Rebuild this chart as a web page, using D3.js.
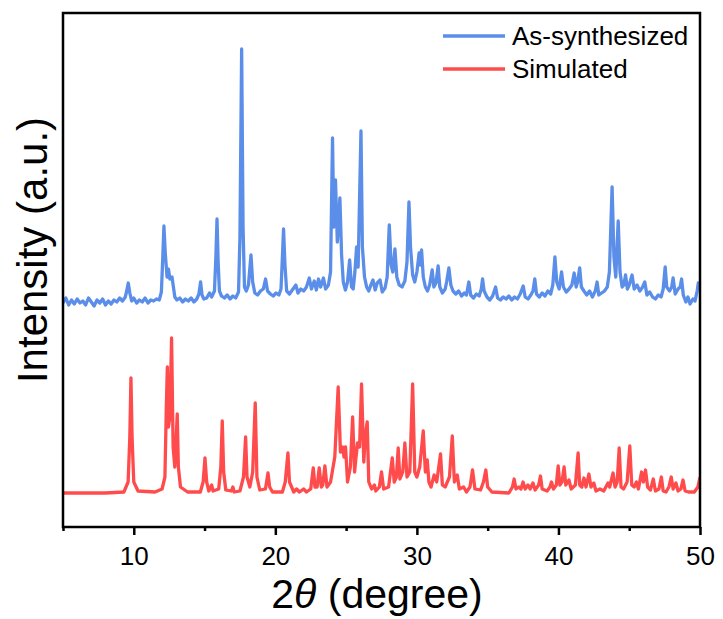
<!DOCTYPE html>
<html>
<head>
<meta charset="utf-8">
<script src="https://cdn.jsdelivr.net/npm/d3@7"></script>
<style>
  html, body { margin: 0; padding: 0; background: #fff; }
  svg { display: block; font-family: "Liberation Sans", Arial, sans-serif; }
</style>
</head>
<body>
<svg id="chart" width="723" height="619"></svg>
<script>
// ---- DATA ----
const seriesNames = ["As-synthesized", "Simulated"];
const seriesColors = ["#5a8ee8", "#ff4b4b"];
const majorTicks = [10, 20, 30, 40, 50];
const minorTicks = [5, 15, 25, 35, 45];
const xDomain = [5, 50];
const yDomain = [0, 514];

// As-synthesized pattern [2theta, intensity a.u.]
const asSynthesized = [
[5.0,224],[5.2,229],[5.4,222],[5.6,227],[5.8,223],[6.0,228],[6.2,224],[6.4,226],[6.6,222],[6.8,229],
[7.0,225],[7.2,221],[7.4,227],[7.6,224],[7.8,228],[8.0,222],[8.2,226],[8.4,223],[8.6,227],[8.8,225],
[9.0,229],[9.2,226],[9.4,230],[9.5,236],[9.61,244],[9.72,234],[9.85,226],[10.0,229],[10.2,224],[10.4,227],
[10.6,225],[10.8,229],[11.0,224],[11.2,227],[11.4,226],[11.6,228],[11.8,227],[11.95,235],[12.05,270],[12.13,301],
[12.22,275],[12.35,250],[12.45,258],[12.55,248],[12.7,250],[12.8,240],[12.9,230],[13.05,227],[13.25,229],[13.45,225],
[13.65,228],[13.85,226],[14.05,229],[14.25,225],[14.45,228],[14.6,233],[14.72,245],[14.82,232],[14.95,228],[15.15,229],
[15.35,234],[15.5,230],[15.7,236],[15.8,270],[15.88,308],[15.96,265],[16.05,236],[16.2,231],[16.4,229],[16.6,232],
[16.8,228],[17.0,231],[17.2,229],[17.4,235],[17.5,290],[17.62,478],[17.72,300],[17.82,240],[17.95,236],[18.1,242],
[18.28,272],[18.4,245],[18.55,234],[18.75,232],[18.95,236],[19.15,238],[19.31,248],[19.45,236],[19.65,233],[19.85,231],
[20.05,234],[20.25,232],[20.4,238],[20.5,270],[20.58,298],[20.68,262],[20.8,236],[21.0,233],[21.2,237],[21.45,242],
[21.6,234],[21.8,238],[22.0,236],[22.2,240],[22.4,249],[22.55,238],[22.75,246],[22.9,237],[23.05,248],[23.2,240],
[23.4,249],[23.55,238],[23.75,242],[23.9,255],[24.04,389],[24.13,300],[24.25,347],[24.38,285],[24.56,329],[24.68,272],
[24.8,245],[24.95,237],[25.1,245],[25.25,267],[25.38,240],[25.5,238],[25.62,255],[25.74,280],[25.85,260],[26.05,396],
[26.15,280],[26.3,250],[26.45,240],[26.6,236],[26.75,242],[26.9,247],[27.05,237],[27.2,244],[27.4,247],[27.55,235],
[27.75,239],[27.9,250],[28.05,302],[28.18,262],[28.3,255],[28.45,278],[28.58,250],[28.75,242],[28.95,240],[29.15,246],
[29.3,265],[29.44,325],[29.55,280],[29.7,252],[29.85,245],[30.0,255],[30.16,274],[30.25,262],[30.33,277],[30.45,250],
[30.6,240],[30.75,236],[30.9,242],[31.08,257],[31.2,240],[31.35,244],[31.5,261],[31.62,240],[31.8,234],[32.0,238],
[32.1,245],[32.26,259],[32.4,242],[32.55,236],[32.75,233],[32.95,236],[33.15,231],[33.35,234],[33.5,232],[33.67,245],
[33.8,232],[34.0,229],[34.2,233],[34.4,231],[34.55,238],[34.64,248],[34.75,236],[34.95,230],[35.15,227],[35.35,231],
[35.56,240],[35.7,229],[35.9,227],[36.1,230],[36.3,228],[36.5,231],[36.7,227],[36.9,230],[37.1,228],[37.3,233],
[37.51,241],[37.65,230],[37.85,228],[38.05,232],[38.2,236],[38.33,248],[38.45,233],[38.65,230],[38.85,234],[39.05,231],
[39.25,236],[39.45,233],[39.6,242],[39.75,270],[39.88,245],[40.05,238],[40.22,255],[40.35,240],[40.55,235],[40.75,238],
[40.95,242],[41.11,254],[41.25,240],[41.35,245],[41.5,259],[41.62,240],[41.8,236],[42.0,232],[42.2,236],[42.4,230],
[42.6,236],[42.73,245],[42.85,232],[43.05,234],[43.25,236],[43.45,240],[43.6,255],[43.79,340],[43.92,270],[44.05,250],
[44.22,306],[44.35,255],[44.5,240],[44.62,242],[44.74,252],[44.87,238],[45.0,242],[45.2,252],[45.35,238],[45.55,242],
[45.75,236],[45.95,240],[46.1,245],[46.25,232],[46.45,235],[46.65,230],[46.85,228],[47.05,232],[47.25,230],[47.4,238],
[47.54,260],[47.65,240],[47.85,236],[48.0,240],[48.1,249],[48.25,233],[48.45,238],[48.6,240],[48.7,248],[48.82,232],
[49.0,225],[49.15,230],[49.3,223],[49.5,228],[49.65,226],[49.8,236],[49.88,244],[50.0,240]
];

// Simulated pattern [2theta, intensity a.u.]
const simulated = [
[5,34],[8,34],[9.3,35],[9.6,45],[9.72,90],[9.8,149],[9.88,90],[10.0,45],[10.3,36],
[11.5,35],[12.0,38],[12.2,50],[12.3,120],[12.37,160],[12.45,100],[12.55,110],[12.67,189],[12.78,80],[12.9,60],
[13.0,90],[13.07,113],[13.15,60],[13.3,40],[13.8,35],[14.7,35],[14.9,45],[15.03,69],[15.15,45],[15.3,36],
[15.5,42],[15.6,36],[16.0,38],[16.15,60],[16.25,106],[16.35,55],[16.5,37],[16.9,36],[17.0,40],[17.1,35],
[17.5,36],[17.75,50],[17.9,90],[18.0,50],[18.2,40],[18.4,55],[18.58,124],[18.7,50],[18.9,37],[19.3,38],
[19.48,54],[19.6,40],[19.8,35],[20.5,35],[20.7,45],[20.89,74],[21.0,45],[21.3,35],[21.5,38],[21.7,35],
[22.0,38],[22.2,35],[22.5,38],[22.68,59],[22.8,40],[22.95,40],[23.1,59],[23.25,40],[23.35,42],[23.5,61],
[23.65,40],[23.9,45],[24.2,70],[24.44,140],[24.6,75],[24.75,80],[24.85,70],[24.96,80],[25.1,45],[25.3,60],
[25.46,110],[25.6,55],[25.7,70],[25.81,84],[25.95,80],[26.09,143],[26.25,65],[26.35,90],[26.49,105],[26.6,45],
[26.8,38],[27.0,42],[27.1,36],[27.35,40],[27.5,55],[27.65,38],[28.0,40],[28.26,69],[28.4,45],[28.55,50],
[28.68,79],[28.8,48],[29.0,55],[29.15,84],[29.3,50],[29.5,55],[29.7,143],[29.85,55],[30.0,50],[30.2,60],
[30.45,96],[30.6,55],[30.73,67],[30.85,45],[31.0,40],[31.22,52],[31.4,45],[31.67,73],[31.8,42],[32.0,40],
[32.3,50],[32.5,91],[32.65,45],[32.85,52],[33.0,38],[33.3,40],[33.5,35],[33.75,40],[33.93,57],[34.1,38],
[34.5,37],[34.7,45],[34.87,57],[35.0,40],[35.3,35],[36.5,34],[36.75,40],[36.87,48],[37.0,38],[37.2,40],
[37.35,38],[37.5,45],[37.65,38],[37.85,42],[38.0,38],[38.2,44],[38.35,37],[38.6,42],[38.73,51],[38.85,38],
[39.2,36],[39.4,40],[39.51,45],[39.65,38],[39.85,42],[39.98,61],[40.1,42],[40.25,45],[40.4,60],[40.52,42],
[40.74,47],[40.9,38],[41.2,42],[41.39,74],[41.5,42],[41.65,40],[41.8,49],[41.95,40],[42.15,53],[42.3,40],
[42.5,44],[42.65,36],[42.93,38],[43.2,36],[43.5,44],[43.62,40],[43.86,54],[44.0,40],[44.15,45],[44.29,79],
[44.42,40],[44.6,38],[44.85,45],[45.04,81],[45.18,42],[45.35,40],[45.51,45],[45.65,38],[45.87,55],[46.0,45],
[46.15,57],[46.3,40],[46.5,37],[46.7,48],[46.85,36],[47.1,38],[47.27,50],[47.4,36],[47.6,35],[47.8,40],
[47.97,50],[48.1,38],[48.3,44],[48.45,36],[48.65,38],[48.8,47],[48.95,36],[49.2,35],[49.6,35],[49.85,40],[50.0,50]
];

// ---- CHART ----
const svg = d3.select("#chart");
const m = { left: 63, top: 13, right: 700, bottom: 527 };

const x = d3.scaleLinear().domain(xDomain).range([m.left, m.right]);
const y = d3.scaleLinear().domain(yDomain).range([m.bottom, m.top]);

const line = d3.line().x(d => x(d[0])).y(d => y(d[1]));

svg.append("clipPath").attr("id", "clip")
  .append("rect").attr("x", m.left).attr("y", m.top)
  .attr("width", m.right - m.left).attr("height", m.bottom - m.top);

const plot = svg.append("g").attr("clip-path", "url(#clip)");
[[simulated, 1], [asSynthesized, 0]].forEach(([data, idx]) => {
  plot.append("path").datum(data)
    .attr("d", line)
    .attr("fill", "none")
    .attr("stroke", seriesColors[idx])
    .attr("stroke-width", 3.3)
    .attr("stroke-linejoin", "round");
});

// frame
svg.append("rect")
  .attr("x", m.left).attr("y", m.top)
  .attr("width", m.right - m.left).attr("height", m.bottom - m.top)
  .attr("fill", "none").attr("stroke", "#000").attr("stroke-width", 2.5);

// bottom axis: major ticks with labels
const xAxis = d3.axisBottom(x).tickValues(majorTicks).tickSize(8).tickFormat(d3.format("d"));
const gx = svg.append("g").attr("transform", `translate(0,${m.bottom})`).call(xAxis);
gx.select(".domain").remove();
gx.selectAll(".tick line").attr("stroke", "#000").attr("stroke-width", 2.5);
gx.selectAll(".tick text")
  .attr("font-size", 26).attr("fill", "#000")
  .attr("font-family", "'Liberation Sans', Arial, sans-serif")
  .attr("dy", null).attr("y", 38);

// minor ticks
const xMinor = d3.axisBottom(x).tickValues(minorTicks).tickSize(4).tickFormat("");
const gm = svg.append("g").attr("transform", `translate(0,${m.bottom})`).call(xMinor);
gm.select(".domain").remove();
gm.selectAll(".tick line").attr("stroke", "#000").attr("stroke-width", 2.5);

// axis titles
const xt = svg.append("text")
  .attr("x", 377).attr("y", 608)
  .attr("text-anchor", "middle")
  .attr("font-size", 41).attr("fill", "#000");
xt.append("tspan").text("2");
xt.append("tspan").attr("font-style", "italic").text("θ");
xt.append("tspan").text(" (degree)");

svg.append("text")
  .attr("transform", "translate(47,250) rotate(-90)")
  .attr("text-anchor", "middle")
  .attr("font-size", 42).attr("fill", "#000")
  .text("Intensity (a.u.)");

// legend
const legendY = [36, 69];
const lg = svg.append("g");
seriesNames.forEach((name, i) => {
  lg.append("line")
    .attr("x1", 443).attr("x2", 505)
    .attr("y1", legendY[i]).attr("y2", legendY[i])
    .attr("stroke", seriesColors[i]).attr("stroke-width", 3.3);
  lg.append("text")
    .attr("x", 512).attr("y", legendY[i] + 9)
    .attr("font-size", 26).attr("fill", "#000")
    .text(name);
});
</script>
</body>
</html>
